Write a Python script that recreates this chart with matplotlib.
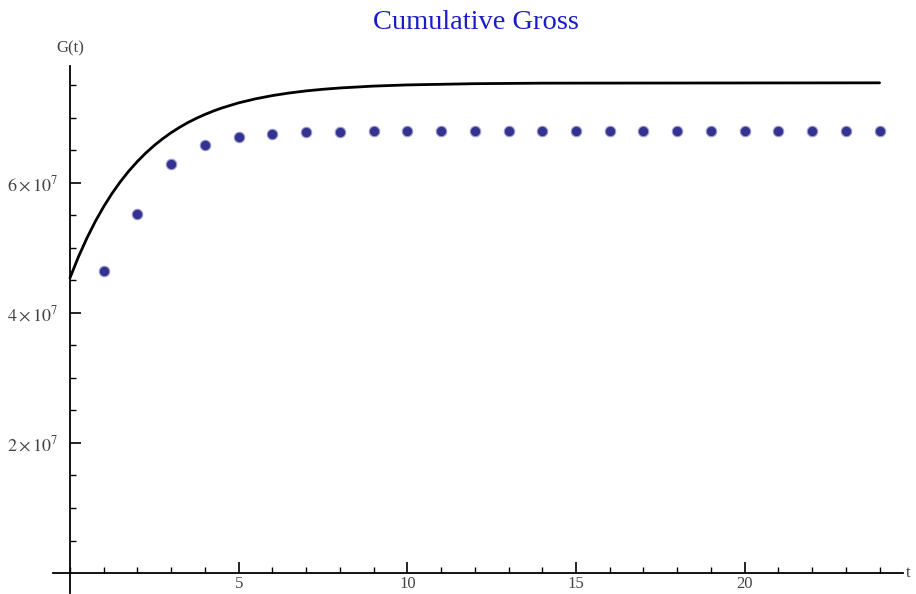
import numpy as np
import matplotlib
matplotlib.use("Agg")
import matplotlib.pyplot as plt
from matplotlib.ticker import FixedLocator, MultipleLocator

# observed cumulative gross per week
weeks = [1, 2, 3, 4, 5, 6, 7, 8, 9, 10, 11, 12, 13, 14, 15, 16, 17, 18, 19, 20, 21, 22, 23, 24]
gross = [46.5e6, 55.3e6, 62.9e6, 65.8e6, 67.0e6, 67.5e6, 67.8e6, 67.8e6, 68.0e6, 68.0e6,
         68.0e6, 68.0e6, 68.0e6, 68.0e6, 68.0e6, 68.0e6, 68.0e6, 68.0e6, 68.0e6, 68.0e6,
         68.0e6, 68.0e6, 68.0e6, 68.0e6]

# model curve G(t)
t_curve = [0, 0.25, 0.5, 0.75, 1, 1.25, 1.5, 1.75, 2, 2.25, 2.5, 2.75, 3, 3.25, 3.5, 3.75,
           4, 4.25, 4.5, 5, 5.5, 6, 6.5, 7, 7.5, 8, 9, 10, 12, 14, 24]
g_curve = [45.4e6, 48.63e6, 51.5e6, 54.08e6, 56.37e6, 58.42e6, 60.24e6, 61.87e6, 63.32e6,
           64.62e6, 65.78e6, 66.81e6, 67.74e6, 68.56e6, 69.30e6, 69.95e6, 70.54e6, 71.06e6,
           71.53e6, 72.32e6, 72.94e6, 73.44e6, 73.84e6, 74.16e6, 74.41e6, 74.61e6, 74.90e6,
           75.08e6, 75.27e6, 75.35e6, 75.4e6]

y_major = [2e7, 4e7, 6e7]
y_labels = [r'$2\times10^{7}$', r'$4\times10^{7}$', r'$6\times10^{7}$']
x_major = [5, 10, 15, 20]

plt.rcParams['font.family'] = 'Liberation Serif'
plt.rcParams['mathtext.fontset'] = 'stix'

fig = plt.figure(figsize=(9.16, 5.94), dpi=100)
ax = fig.add_axes([0.058, 0.0025, 0.928, 0.8865])

ax.plot(t_curve, g_curve, color='black', lw=2.0, solid_capstyle='round',
        solid_joinstyle='round', zorder=2)
ax.plot(weeks, gross, 'o', color='#33338f', ms=7.5, mec='#9a9ad0', mew=0.8, zorder=3)

ax.set_xlim(-0.5, 24.7)
ax.set_ylim(-3e6, 7.8e7)

for s in ['top', 'right']:
    ax.spines[s].set_visible(False)
ax.spines['left'].set_position(('data', 0))
ax.spines['bottom'].set_position(('data', 0))
ax.spines['left'].set_linewidth(1.3)
ax.spines['bottom'].set_linewidth(1.3)

ax.yaxis.set_major_locator(FixedLocator(y_major))
ax.set_yticklabels(y_labels)
ax.yaxis.set_minor_locator(FixedLocator([v * 5e6 for v in range(1, 16) if v % 4 != 0]))
ax.xaxis.set_major_locator(FixedLocator(x_major))
ax.xaxis.set_minor_locator(MultipleLocator(1))

ax.tick_params(which='major', direction='in', length=8, width=1.2, colors='black',
               labelsize=13, labelcolor='#444444')
ax.tick_params(which='minor', direction='in', length=4, width=1.0, colors='black')
ax.tick_params(axis='y', which='major', pad=8)
ax.tick_params(axis='x', which='major', pad=2, labelsize=12)

ax.text(0, 7.95e7, 'G(t)', ha='center', va='bottom', fontsize=12, color='#444444')
ax.text(24.78, 0, 't', ha='left', va='center', fontsize=12, color='#444444', clip_on=False)

fig.text(0.52, 0.962, 'Cumulative Gross', ha='center', va='center', fontsize=20.5,
         color='#1c1cc4')

fig.savefig('out.png', dpi=100, facecolor='white')
